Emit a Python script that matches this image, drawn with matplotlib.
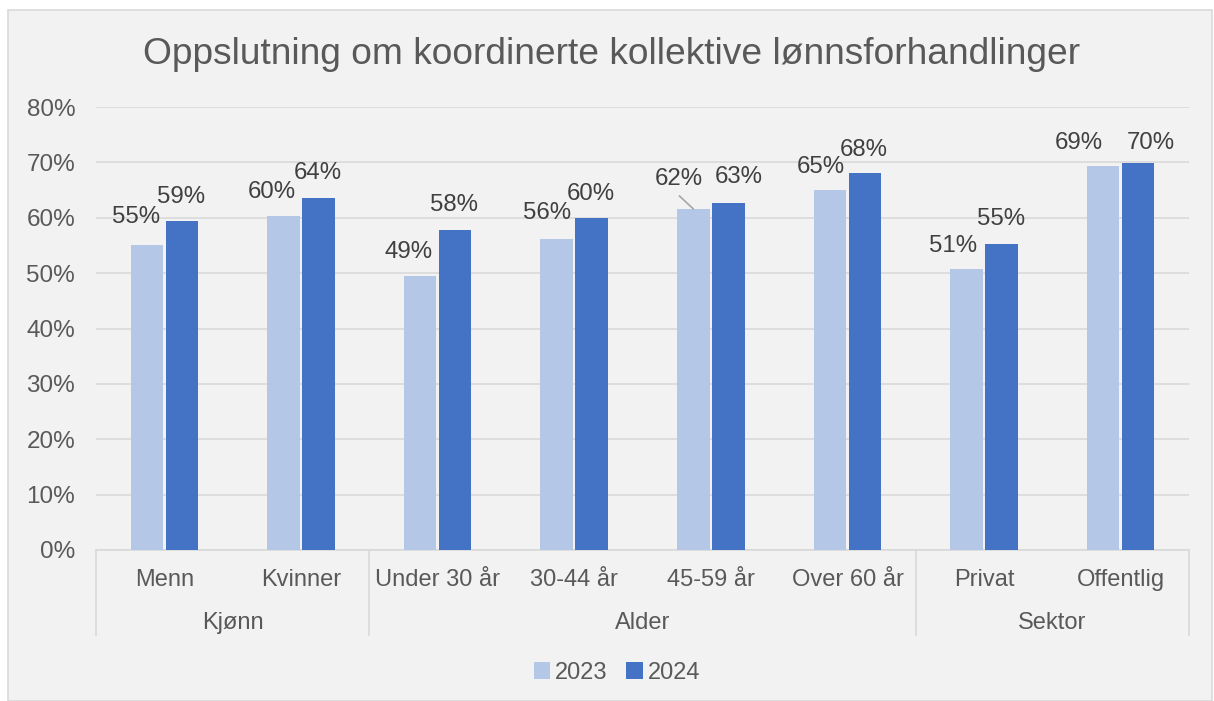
import matplotlib.pyplot as plt
from matplotlib.lines import Line2D
from matplotlib.patches import Rectangle
import numpy as np

plt.rcParams['font.family'] = ['Liberation Sans', 'DejaVu Sans']

categories = ["Menn", "Kvinner", "Under 30 år", "30-44 år", "45-59 år", "Over 60 år", "Privat", "Offentlig"]
groups = ["Kjønn", "Alder", "Sektor"]
group_sizes = [2, 4, 2]
v2023 = [0.551, 0.603, 0.494, 0.562, 0.616, 0.650, 0.507, 0.693]
v2024 = [0.594, 0.636, 0.578, 0.600, 0.627, 0.681, 0.553, 0.699]
years = ["2023", "2024"]

# label offsets in pixels (dx, dy) from each bar's top centre
off2023 = [(-11, 28), (-12, 24), (-12, 24), (-10, 26), (-15, 30), (-9, 23), (-14, 23), (-24, 23)]
off2024 = [(-1, 24), (-1, 25), (-1, 25), (-1, 24), (10, 26), (-1, 23), (0, 25), (13, 20)]

grey = "#595959"
light = "#b4c7e7"
dark = "#4472c4"

fig = plt.figure(figsize=(12.14, 7.01), dpi=100, facecolor="white")
fig.patches.append(Rectangle((8/1214, 0), 1204/1214, 691/701, transform=fig.transFigure,
                             facecolor="#f2f2f2", edgecolor="#d9d9d9", lw=1.2, zorder=-1))
ax = fig.add_axes([96/1214, 151/701, 1093/1214, 443/701])
ax.set_facecolor("#f2f2f2")

x = np.arange(len(categories))
w = 0.238
d = 0.128
b1 = ax.bar(x - d, v2023, w, color=light, label=years[0], zorder=3)
b2 = ax.bar(x + d, v2024, w, color=dark, label=years[1], zorder=3)

for bars, vals, offs in [(b1, v2023, off2023), (b2, v2024, off2024)]:
    for i, (r, v) in enumerate(zip(bars, vals)):
        cx = r.get_x() + r.get_width()/2
        ax.annotate(f"{round(v*100):.0f}%", (cx, v), xytext=offs[i], textcoords="offset pixels",
                    ha="center", va="center", fontsize=17.3, color="#404040")

# leader line for 45-59 2023
r = b1[4]
ax.annotate("", xy=(r.get_x() + r.get_width()/2, v2023[4]),
            xytext=(-14, 13), textcoords="offset pixels",
            arrowprops=dict(arrowstyle="-", color="#a6a6a6", lw=1.2, shrinkA=0, shrinkB=0))

ax.set_xlim(-0.5, len(categories) - 0.5)
ax.set_ylim(0, 0.8)
ticks = np.arange(0, 0.81, 0.1)
ax.set_yticks(ticks)
ax.set_yticklabels([f"{int(round(t*100))}%" for t in ticks])
ax.tick_params(axis="y", length=0, labelsize=17.5, labelcolor=grey, pad=15)
ax.grid(axis="y", color="#d9d9d9", lw=1.2, zorder=0)
ax.set_axisbelow(True)
for s in ["top", "right", "left"]:
    ax.spines[s].set_visible(False)
ax.spines["bottom"].set_color("#d9d9d9")
ax.spines["bottom"].set_linewidth(1.2)
ax.set_xticks([])

tr = ax.get_xaxis_transform()
for i, c in enumerate(categories):
    ax.text(i, -30/443, c, transform=tr, ha="center", va="center", fontsize=17, color=grey)

bounds = np.concatenate([[0], np.cumsum(group_sizes)]) - 0.5
for i, g in enumerate(groups):
    ax.text((bounds[i] + bounds[i+1]) / 2, -73/443, g, transform=tr, ha="center", va="center",
            fontsize=17, color=grey)
for b in bounds:
    ax.add_line(Line2D([b, b], [0, -85/443], transform=tr, color="#d9d9d9", lw=1.2, clip_on=False))

fig.text(612/1214, 1 - 55/701, "Oppslutning om koordinerte kollektive lønnsforhandlinger",
         ha="center", va="center", fontsize=26.7, color=grey)

fig.legend(handles=[b1, b2], labels=years, loc="center", bbox_to_anchor=(617/1214, 1 - 673/701),
           ncol=2, frameon=False, fontsize=17, labelcolor=grey, handlelength=0.7, handleheight=0.7,
           handletextpad=0.2, columnspacing=0.8)

fig.savefig("out.png", dpi=100, facecolor="white")
